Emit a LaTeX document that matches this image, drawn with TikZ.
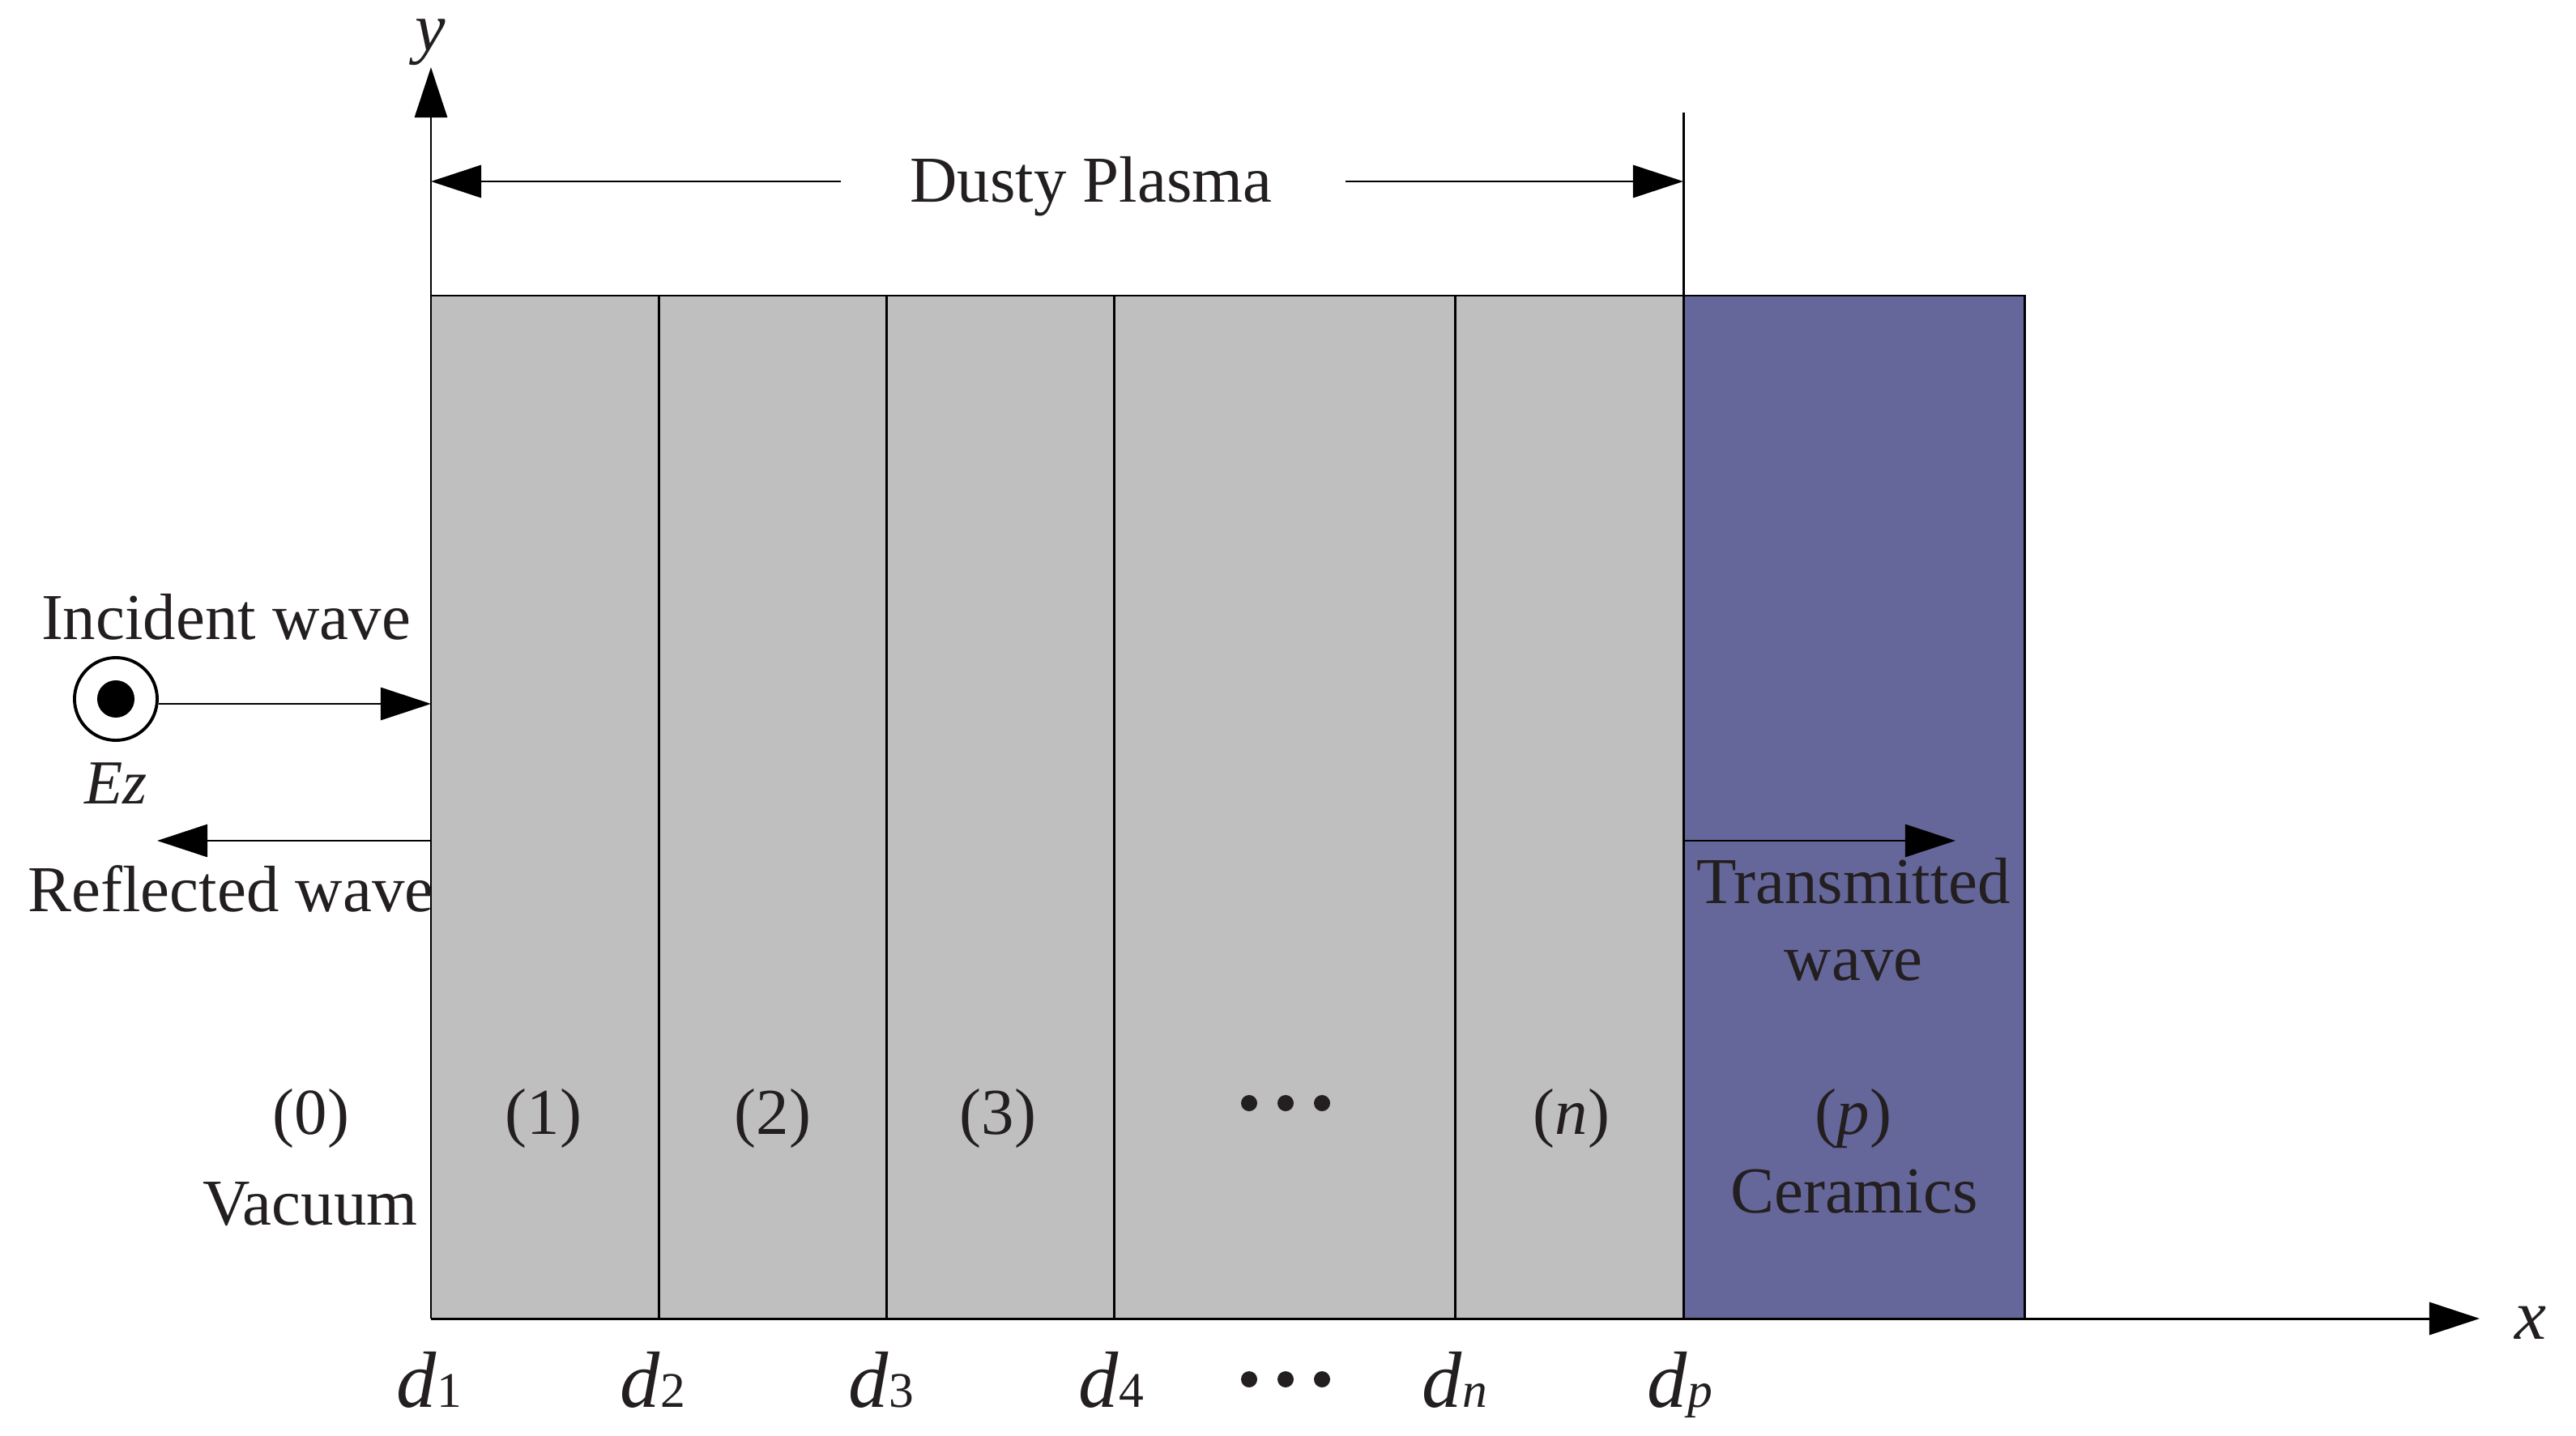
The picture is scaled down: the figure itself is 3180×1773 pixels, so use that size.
\documentclass[tikz,border=0pt]{standalone}
\usepackage{fontspec}
\setmainfont{Liberation Serif}
\usetikzlibrary{arrows.meta}
\definecolor{plasma}{RGB}{192,191,192}
\definecolor{ceramic}{RGB}{101,102,153}
\definecolor{txt}{RGB}{35,31,32}
\begin{document}
\begin{tikzpicture}[x=0.01cm,y=-0.01cm,
  lbl/.style={text=txt,font=\fontsize{23}{27}\selectfont,inner sep=0pt,anchor=base},
  dlbl/.style={text=txt,font=\fontsize{28}{32}\selectfont,inner sep=0pt,anchor=base},
  axlbl/.style={text=txt,font=\fontsize{25}{30}\selectfont\itshape,inner sep=0pt,anchor=base},
  arr/.style={-{Triangle[length=0.62cm,width=0.4cm]},line width=0.85pt},
  edge/.style={line width=0.85pt},
  dotmark/.style={circle,fill=txt,inner sep=0pt,minimum size=0.2cm}]
\useasboundingbox (0,0) rectangle (3180,1773);
% layers
\fill[plasma] (532,365) rectangle (2078,1628);
\fill[ceramic] (2078,365) rectangle (2499,1628);
% named points
\coordinate (o) at (532,1628);
\coordinate (ytip) at (532,83);
\coordinate (xtip) at (3061,1628);
\coordinate (tl) at (532,365);
\coordinate (tr) at (2499,365);
\coordinate (br) at (2499,1628);
\foreach \n/\x in {b2/813,b3/1094,b4/1375,bn/1796,bp/2078}{
  \coordinate (\n top) at (\x,365);
  \coordinate (\n bot) at (\x,1628);
}
\coordinate (bptop2) at (2078,139);
\coordinate (dpl) at (532,224);
\coordinate (dpr) at (2078,224);
\coordinate (dpla) at (1038,224);
\coordinate (dpra) at (1661,224);
\coordinate (inctip) at (532,869);
\coordinate (refstart) at (532,1038);
\coordinate (reftip) at (194,1038);
\coordinate (trstart) at (2078,1038);
\coordinate (trtip) at (2414,1038);
% outlines
\draw[edge] (tl) -- (tr) -- (br);
\foreach \n in {b2,b3,b4,bn}{\draw[edge] (\n top) -- (\n bot);}
\draw[edge] (bptop2) -- (bpbot);
% axes
\draw[arr] (o) -- (ytip);
\draw[arr] (o) -- (xtip);
\node[axlbl,font=\fontsize{24}{28}\selectfont\itshape,text height=1.2ex] (ylab) at (531,63) {y};
\node[axlbl] (xlab) at (3124,1653) {x};
% Dusty plasma
\node[lbl] (dp) at (1347,250) {Dusty Plasma};
\draw[arr] (dpla) -- (dpl);
\draw[arr] (dpra) -- (dpr);
% incident wave
\node[lbl] (inc) at (279,790) {Incident wave};
\node[circle,draw=black,line width=1.1pt,minimum size=1.02cm,inner sep=0pt] (circ) at (143,863) {};
\node[circle,fill=black,minimum size=0.46cm,inner sep=0pt] (cdot) at (circ.center) {};
\draw[arr] (circ.east |- inctip) -- (inctip);
\node[lbl,font=\fontsize{22}{26}\selectfont\itshape] (ez) at (143,992) {Ez};
% reflected wave
\draw[arr] (refstart) -- (reftip);
\node[lbl] (refl) at (285,1125) {Reflected wave};
% transmitted wave
\draw[arr] (trstart) -- (trtip);
\node[lbl] (tr1) at (2288,1115) {Transmitted};
\node[lbl] (tr2) at (2288,1210) {wave};
% region labels
\node[lbl] (r0) at (384,1400) {(0)};
\node[lbl] (vac) at (383,1512) {Vacuum};
\node[lbl] (r1) at (671,1400) {(1)};
\node[lbl] (r2) at (954,1400) {(2)};
\node[lbl] (r3) at (1232,1400) {(3)};
\node[lbl] (rn) at (1940,1400) {(\textit{n})};
\node[lbl] (rp) at (2288,1400) {(\textit{p})};
\node[lbl] (cer) at (2289,1497) {Ceramics};
\foreach \i/\x in {1/1542,2/1587,3/1632}{
  \node[dotmark] (dt\i) at (\x,1362) {};
  \node[dotmark] (db\i) at (\x,1703) {};
}
% d labels
\node[dlbl] (d1) at (530,1737) {\textit{d}{\fontsize{17.5}{20}\selectfont 1}};
\node[dlbl] (d2) at (806,1737) {\textit{d}{\fontsize{17.5}{20}\selectfont 2}};
\node[dlbl] (d3) at (1088,1737) {\textit{d}{\fontsize{17.5}{20}\selectfont 3}};
\node[dlbl] (d4) at (1372,1737) {\textit{d}{\fontsize{17.5}{20}\selectfont 4}};
\node[dlbl] (dn) at (1796,1737) {\textit{d}{\fontsize{17.5}{20}\selectfont\itshape n}};
\node[dlbl] (dpp) at (2074,1737) {\textit{d}{\fontsize{17.5}{20}\selectfont\itshape p}};
\end{tikzpicture}
\end{document}
